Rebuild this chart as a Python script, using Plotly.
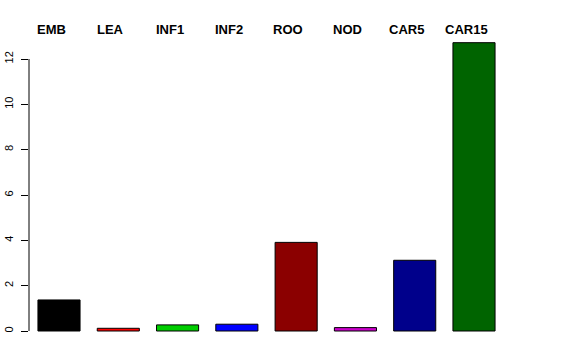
import plotly.graph_objects as go

categories = ["EMB", "LEA", "INF1", "INF2", "ROO", "NOD", "CAR5", "CAR15"]
values = [1.37, 0.12, 0.27, 0.30, 3.91, 0.15, 3.12, 12.72]
colors = ["#000000", "#FF0000", "#00CD00", "#0000FF", "#8B0000", "#CD00CD", "#00008B", "#006400"]
yticks = [0, 2, 4, 6, 8, 10, 12]

fig = go.Figure()
fig.add_trace(go.Bar(
    x=list(range(len(categories))), y=values, width=0.71,
    marker=dict(color=colors, line=dict(color="#000000", width=1)),
    showlegend=False, hoverinfo="skip",
))

# category labels above
for i, c in enumerate(categories):
    fig.add_annotation(x=i, y=1, xref="x", yref="paper", text="<b>%s</b>" % c,
                       showarrow=False, yanchor="middle", xanchor="center",
                       yshift=3, xshift=-8,
                       font=dict(family="Liberation Sans, Arial, sans-serif", size=13, color="#000000"))

# y axis line spanning tick range only
fig.add_shape(type="line", xref="paper", yref="y", x0=0, x1=0,
              y0=min(yticks), y1=max(yticks), line=dict(color="#000000", width=1))

fig.update_layout(
    width=576, height=360,
    margin=dict(l=29, r=72, t=32, b=18, autoexpand=False),
    paper_bgcolor="white", plot_bgcolor="white",
    xaxis=dict(range=[-0.506, 7.506], visible=False, showgrid=False, zeroline=False,
               automargin=False),
    yaxis=dict(range=[-0.485, 13.191], tickvals=yticks, ticktext=[str(t) for t in yticks],
               ticks="outside", ticklen=7, tickcolor="#000000", tickwidth=1,
               tickangle=-90, showgrid=False, zeroline=False, showline=False,
               automargin=False, ticklabelstandoff=4,
               tickfont=dict(family="Liberation Sans, Arial, sans-serif", size=11, color="#000000")),
)

fig.write_html("out.html")
